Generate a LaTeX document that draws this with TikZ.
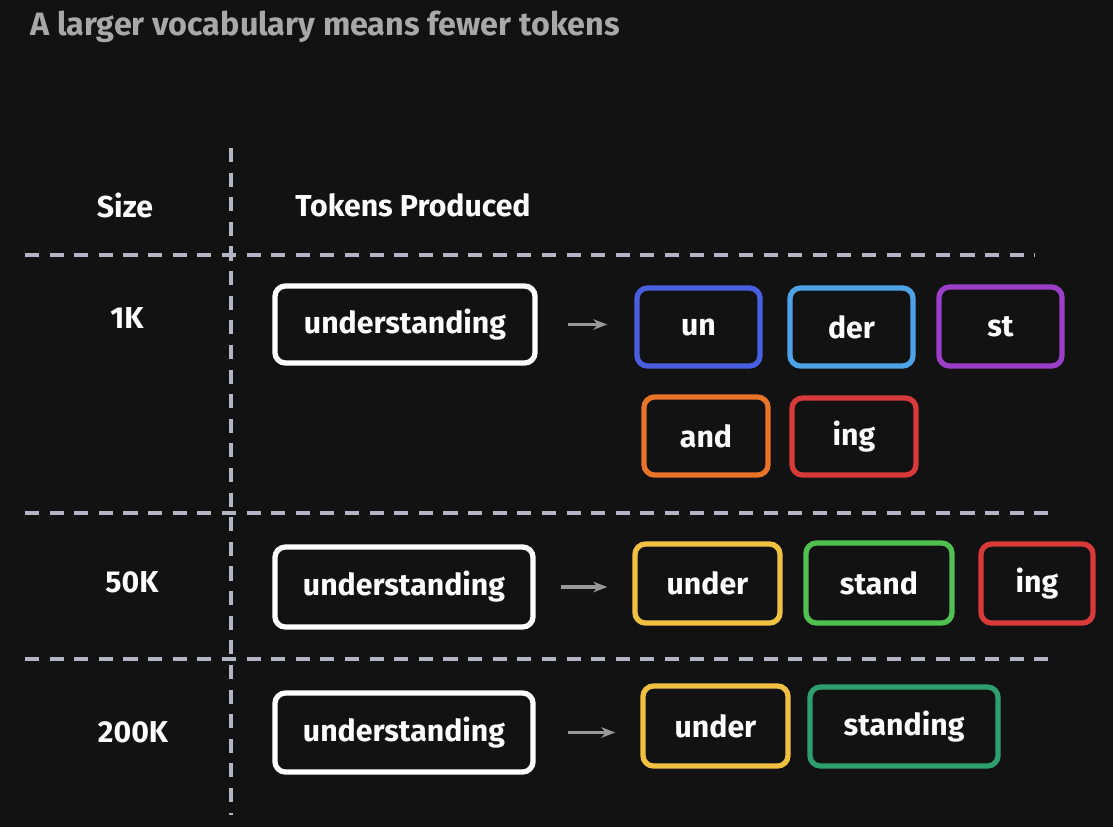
\documentclass[tikz,border=0pt]{standalone}
\usepackage{fontspec}
\setmainfont{Fira Sans}
\usetikzlibrary{arrows.meta}
\definecolor{bg}{HTML}{121212}
\definecolor{dashc}{HTML}{B4B4C4}
\definecolor{ttl}{HTML}{A8A8A8}
\definecolor{cblue}{HTML}{4A5FE0}
\definecolor{clblue}{HTML}{4EA3E8}
\definecolor{cpurple}{HTML}{9B3FC9}
\definecolor{corange}{HTML}{E8742A}
\definecolor{cred}{HTML}{D83A3A}
\definecolor{cyellow}{HTML}{F0C040}
\definecolor{cgreen}{HTML}{50C050}
\definecolor{cteal}{HTML}{2E9E6E}
\tikzset{
 txt/.style={text=white,font=\fontsize{8.6}{10}\selectfont\bfseries},
 box/.style={draw=#1,line width=1.5pt,rounded corners=3pt,fill=bg,txt,inner sep=0pt},
 sep/.style={draw=dashc,line width=1pt,dash pattern=on 4pt off 3pt},
 arr/.style={draw=gray!80,line width=1pt,-{Stealth[length=4pt]}}
}
\begin{document}
\begin{tikzpicture}[x=0.01cm,y=-0.01cm]
\fill[bg] (0,0) rectangle (1113,827);
\useasboundingbox (0,0) rectangle (1113,827);
\node[anchor=west,text=ttl,font=\fontsize{9.2}{11}\selectfont\bfseries] (title) at (18,27) {A larger vocabulary means fewer tokens};
\coordinate (vt) at (231,148); \coordinate (vb) at (231,815);
\draw[sep] (vt) -- (vb);
\coordinate (h1a) at (25,255); \coordinate (h1b) at (1035,255);
\coordinate (h2a) at (25,513); \coordinate (h2b) at (1055,513);
\coordinate (h3a) at (25,659); \coordinate (h3b) at (1055,659);
\draw[sep] (h1a) -- (h1b); \draw[sep] (h2a) -- (h2b); \draw[sep] (h3a) -- (h3b);
\node[txt] (size) at (125,205) {Size};
\node[txt,anchor=west] (tp) at (283,205) {Tokens Produced};
\node[txt] (k1) at (127,318) {1K};
\node[txt] (k50) at (132,582) {50K};
\node[txt] (k200) at (133,732) {200K};
\node[box=white,minimum width=2.6cm,minimum height=0.77cm] (u1) at (405,324.5) {understanding};
\node[box=white,minimum width=2.58cm,minimum height=0.8cm] (u2) at (404,587) {understanding};
\node[box=white,minimum width=2.58cm,minimum height=0.79cm] (u3) at (404,732.5) {understanding};
\node[box=cblue,minimum width=1.23cm,minimum height=0.78cm] (a1) at (698.5,327) {un};
\node[box=clblue,minimum width=1.23cm,minimum height=0.78cm] (a2) at (851.5,327) {der};
\node[box=cpurple,minimum width=1.23cm,minimum height=0.79cm] (a3) at (1000.5,326.5) {st};
\node[box=corange,minimum width=1.24cm,minimum height=0.78cm] (a4) at (706,436) {and};
\node[box=cred,minimum width=1.24cm,minimum height=0.77cm] (a5) at (854,436.5) {ing};
\node[box=cyellow,minimum width=1.45cm,minimum height=0.79cm] (b1) at (707.5,583.5) {under};
\node[box=cgreen,minimum width=1.46cm,minimum height=0.8cm] (b2) at (879,583) {stand};
\node[box=cred,minimum width=1.12cm,minimum height=0.79cm] (b3) at (1037,583.5) {ing};
\node[box=cyellow,minimum width=1.45cm,minimum height=0.8cm] (c1) at (715.5,726) {under};
\node[box=cteal,minimum width=1.88cm,minimum height=0.79cm] (c2) at (904,726.5) {standing};
\draw[arr,shorten <=0.3cm,shorten >=0.27cm] (u1.east) -- (a1.west|-u1.east);
\draw[arr,shorten <=0.25cm,shorten >=0.25cm] (u2.east) -- (b1.west|-u2.east);
\draw[arr,shorten <=0.32cm,shorten >=0.25cm] (u3.east) -- (c1.west|-u3.east);
\end{tikzpicture}
\end{document}
